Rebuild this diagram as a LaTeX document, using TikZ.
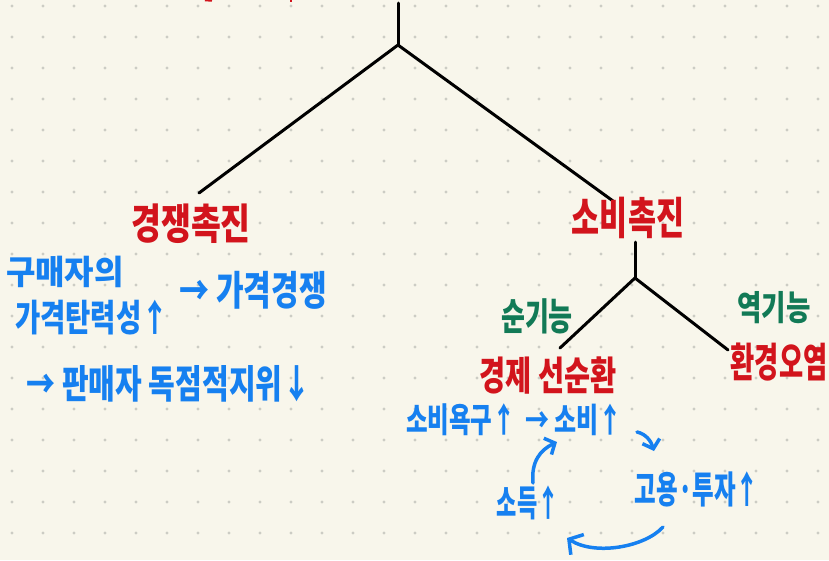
\documentclass[tikz,border=0pt]{standalone}
\usepackage{graphicx}
\usepackage{fontspec}
\newfontfamily\kr{Noto Sans CJK KR}
\usetikzlibrary{arrows.meta}
\definecolor{bg}{RGB}{248,246,235}
\definecolor{dotc}{RGB}{204,204,196}
\definecolor{hred}{RGB}{210,20,28}
\definecolor{hblue}{RGB}{22,128,240}
\definecolor{hgreen}{RGB}{18,122,86}
\newcommand{\tallt}[2]{\scalebox{1}[#1]{#2}}
\tikzset{
  lab/.style={inner sep=0pt, font=\kr\bfseries\fontsize{#1}{#1}\selectfont},
  redt/.style={lab=#1, text=hred},
  bluet/.style={lab=#1, text=hblue},
  greent/.style={lab=#1, text=hgreen},
  branch/.style={draw=black, line width=3pt, line cap=round},
  barb/.style={draw=hblue, line width=3.5pt, line cap=round,
    -{Straight Barb[length=8pt,width=18pt,line width=3.5pt]}},
  bigbarb/.style={draw=hblue, line width=3.5pt, line cap=round,
    -{Straight Barb[length=10pt,width=24pt,line width=3.5pt]}},
}
\begin{document}
\begin{tikzpicture}[x=1pt,y=-1pt]
\fill[bg] (0,0) rectangle (829,560);
\useasboundingbox (0,0) rectangle (829,560);
\foreach \i in {0,...,26}{
  \foreach \j in {0,...,17}{
    \fill[dotc] ({12+31*\i},{6+31*\j}) circle (1.6pt);
  }
}
% clipped red fragments at the top edge
\draw[hred, line width=2.5pt] (205,0) -- (212,0.5);
\draw[hred, line width=2.5pt] (291,0) -- (291,2);

% tree
\coordinate (top) at (398,3);
\coordinate (j1) at (398,45);
\coordinate (lb) at (199,193);
\coordinate (rb) at (613,201);
\coordinate (t2) at (635,242);
\coordinate (j2) at (635,278);
\coordinate (lb2) at (560,348);
\coordinate (rb2) at (728,350);
\draw[branch] (top) -- (j1);
\draw[branch] (j1) -- (lb);
\draw[branch] (j1) -- (rb);
\draw[branch] (t2) -- (j2);
\draw[branch] (j2) -- (lb2);
\draw[branch] (j2) -- (rb2);

% labels
\node[redt=32.5] (comp) at (191,224) {\tallt{1.3}{경쟁촉진}};
\node[redt=30.5] (cons) at (628,218) {\tallt{1.45}{소비촉진}};
\node[bluet=32] (buyer1) at (65,272) {\tallt{1.05}{구매자의}};
\node[bluet=27.5] (buyer2) at (92,318) {\tallt{1.35}{가격탄력성↑}};
\node[bluet=30] (pcomp) at (253,290) {\tallt{1.35}{→ 가격경쟁}};
\node[bluet=29] (mono) at (169,384) {\tallt{1.35}{→ 판매자 독점적지위↓}};
\node[greent=26] (pos) at (537,316) {\tallt{1.45}{순기능}};
\node[greent=26.5] (neg) at (774,308) {\tallt{1.3}{역기능}};
\node[redt=28.4] (econ) at (548,376) {\tallt{1.4}{경제 선순환}};
\node[redt=26.3] (env) at (779,362) {\tallt{1.55}{환경오염}};
\node[bluet=23.5] (desire) at (461,420) {\tallt{1.45}{소비욕구↑}};
\node[bluet=24] (cons2) at (574,420) {\tallt{1.4}{→ 소비↑}};
\node[bluet=23.5] (emp) at (697,489) {\tallt{1.6}{고용·투자↑}};
\node[bluet=22] (inc) at (528,503) {\tallt{1.65}{소득↑}};

% cycle arrows
\coordinate (a1s) at (637,432);
\coordinate (a1e) at (654,451);
\coordinate (a2s) at (663,527);
\coordinate (a2e) at (567,538);
\coordinate (a3s) at (533,483);
\coordinate (a3e) at (557,442);
\draw[barb] (a1s) .. controls (646,434) and (651,441) .. (a1e);
\draw[bigbarb] (a2s) .. controls (645,547) and (595,556) .. (a2e);
\draw[barb] (a3s) .. controls (531,462) and (540,450) .. (a3e);
\end{tikzpicture}
\end{document}
